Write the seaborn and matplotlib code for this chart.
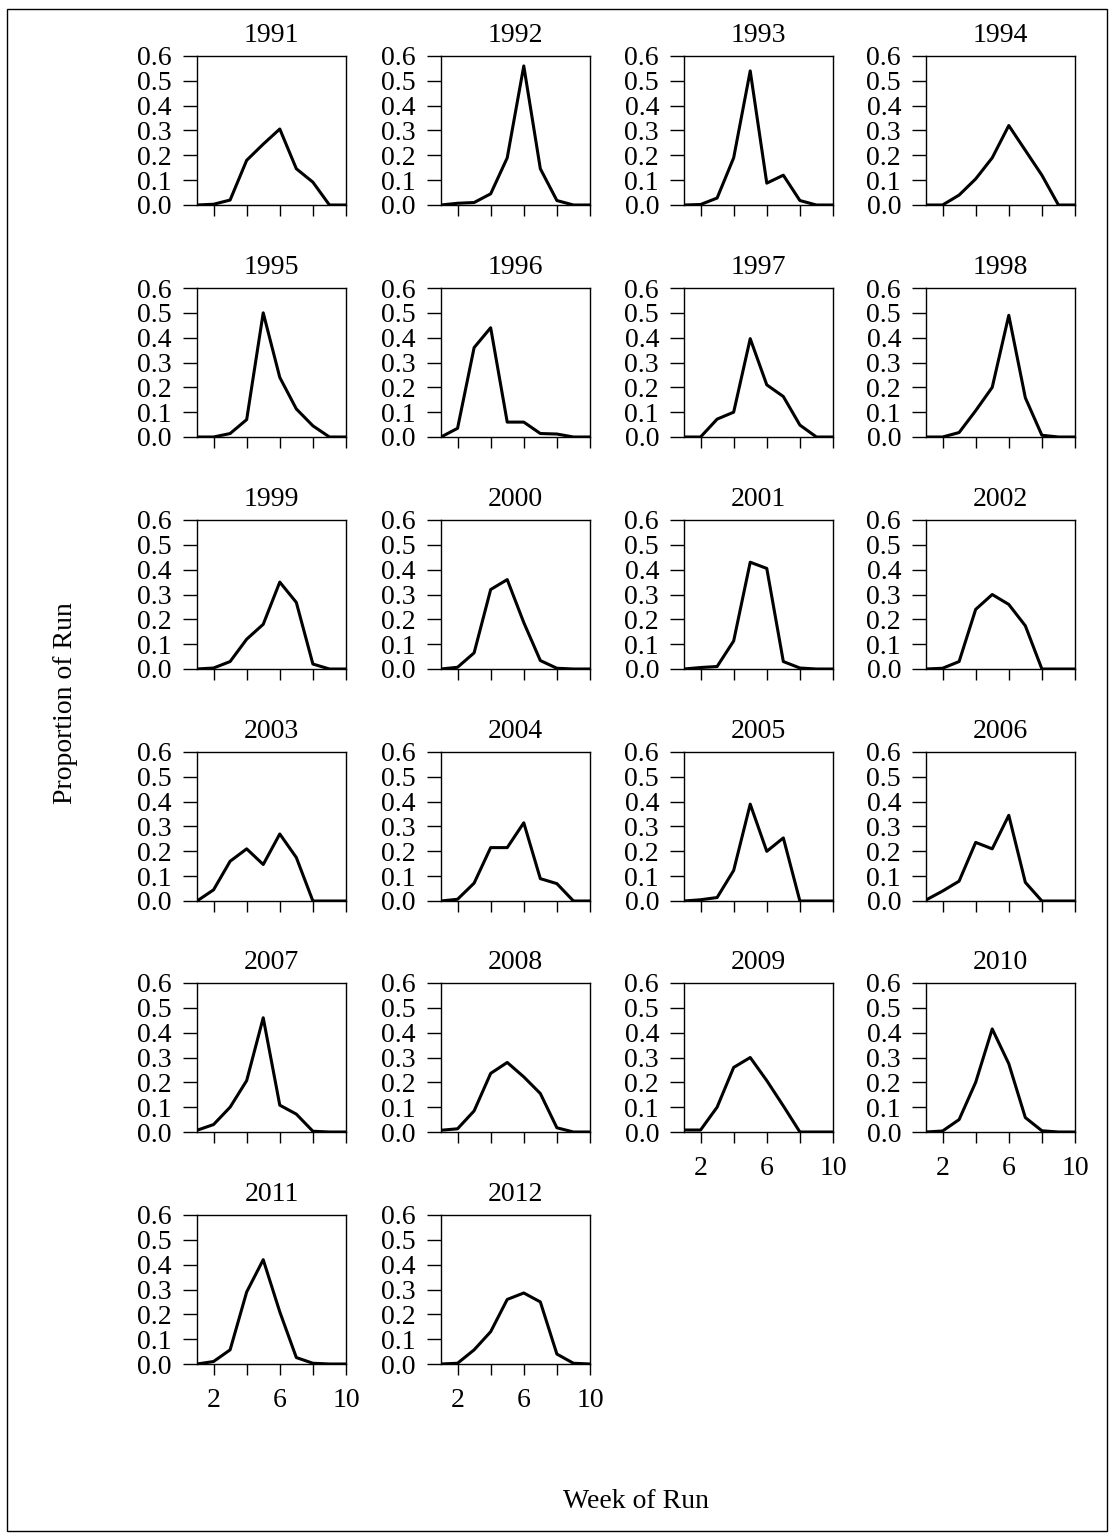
import matplotlib
matplotlib.use("Agg")
import matplotlib.pyplot as plt
from matplotlib.patches import Rectangle
import seaborn as sns
import pandas as pd

# ---------------- data ----------------
weeks = [1, 2, 3, 4, 5, 6, 7, 8, 9, 10]
years = list(range(1991, 2013))

y1991 = [0.0, 0.003, 0.02, 0.18, 0.245, 0.306, 0.146, 0.092, 0.0, 0.0]
y1992 = [0.0, 0.007, 0.01, 0.045, 0.19, 0.56, 0.146, 0.018, 0.0, 0.0]
y1993 = [0.0, 0.002, 0.028, 0.19, 0.54, 0.088, 0.12, 0.018, 0.0, 0.0]
y1994 = [0.0, 0.0, 0.04, 0.105, 0.19, 0.32, 0.22, 0.12, 0.0, 0.0]
y1995 = [0.0, 0.0, 0.014, 0.07, 0.50, 0.24, 0.113, 0.045, 0.0, 0.0]
y1996 = [0.0, 0.035, 0.36, 0.44, 0.06, 0.06, 0.014, 0.012, 0.0, 0.0]
y1997 = [0.0, 0.0, 0.072, 0.10, 0.396, 0.21, 0.163, 0.048, 0.0, 0.0]
y1998 = [0.0, 0.0, 0.018, 0.106, 0.20, 0.49, 0.158, 0.007, 0.0, 0.0]
y1999 = [0.0, 0.004, 0.03, 0.12, 0.18, 0.35, 0.268, 0.02, 0.0, 0.0]
y2000 = [0.0, 0.007, 0.065, 0.32, 0.36, 0.187, 0.034, 0.003, 0.0, 0.0]
y2001 = [0.0, 0.006, 0.01, 0.113, 0.43, 0.405, 0.03, 0.004, 0.0, 0.0]
y2002 = [0.0, 0.003, 0.03, 0.24, 0.30, 0.26, 0.174, 0.0, 0.0, 0.0]
y2003 = [0.0, 0.045, 0.16, 0.21, 0.147, 0.27, 0.175, 0.0, 0.0, 0.0]
y2004 = [0.0, 0.007, 0.072, 0.215, 0.215, 0.315, 0.09, 0.07, 0.0, 0.0]
y2005 = [0.0, 0.005, 0.014, 0.123, 0.39, 0.20, 0.254, 0.0, 0.0, 0.0]
y2006 = [0.004, 0.04, 0.08, 0.236, 0.21, 0.345, 0.075, 0.0, 0.0, 0.0]
y2007 = [0.007, 0.03, 0.10, 0.207, 0.46, 0.108, 0.072, 0.003, 0.0, 0.0]
y2008 = [0.007, 0.013, 0.085, 0.236, 0.28, 0.222, 0.155, 0.017, 0.0, 0.0]
y2009 = [0.008, 0.008, 0.10, 0.26, 0.30, 0.207, 0.105, 0.0, 0.0, 0.0]
y2010 = [0.0, 0.004, 0.05, 0.20, 0.415, 0.275, 0.058, 0.005, 0.0, 0.0]
y2011 = [0.0, 0.01, 0.057, 0.29, 0.42, 0.21, 0.026, 0.003, 0.0, 0.0]
y2012 = [0.0, 0.003, 0.057, 0.13, 0.26, 0.286, 0.25, 0.04, 0.003, 0.0]

series = [y1991, y1992, y1993, y1994, y1995, y1996, y1997, y1998, y1999, y2000,
          y2001, y2002, y2003, y2004, y2005, y2006, y2007, y2008, y2009, y2010,
          y2011, y2012]

y_ticks = [0.0, 0.1, 0.2, 0.3, 0.4, 0.5, 0.6]
y_ticklabels = ["0.0", "0.1", "0.2", "0.3", "0.4", "0.5", "0.6"]
x_ticks = [2, 4, 6, 8, 10]
x_ticklabels = ["2", "", "6", "", "10"]

df = pd.DataFrame([(yr, w, v) for yr, vals in zip(years, series) for w, v in zip(weeks, vals)],
                  columns=["year", "week", "prop"])

# ---------------- style ----------------
sns.set_theme(style="white")
plt.rcParams["font.family"] = ["Liberation Serif", "DejaVu Serif"]
plt.rcParams["axes.edgecolor"] = "black"
plt.rcParams["xtick.color"] = "black"
plt.rcParams["ytick.color"] = "black"
plt.rcParams["text.color"] = "black"
plt.rcParams["axes.labelcolor"] = "black"
plt.rcParams["axes.titlecolor"] = "black"

W, H = 1112, 1537
fig = plt.figure(figsize=(W / 100, H / 100), dpi=100)
fig.patch.set_facecolor("white")

col_left = [197, 441, 684, 926]
row_top = [56, 288, 520, 752, 983, 1215]
pw, ph = 149, 149
FS = 20

ncols = 4
n = len(years)
for i, yr in enumerate(years):
    r, c = divmod(i, ncols)
    l = col_left[c]
    t = row_top[r]
    ax = fig.add_axes([l / W, 1 - (t + ph) / H, pw / W, ph / H])
    sub = df[df["year"] == yr]
    sns.lineplot(data=sub, x="week", y="prop", color="black", linewidth=2.2, ax=ax)
    ax.set_xlim(1, 10)
    ax.set_ylim(0, 0.6)
    ax.set_yticks(y_ticks)
    ax.set_yticklabels(y_ticklabels, fontsize=FS, color="black")
    ax.set_xticks(x_ticks)
    bottom_panel = (i + ncols) >= n
    if bottom_panel:
        ax.set_xticklabels(x_ticklabels, fontsize=FS, color="black")
    else:
        ax.set_xticklabels([])
    ax.tick_params(axis="y", direction="out", length=10, width=1.0, pad=8, left=True)
    ax.tick_params(axis="x", direction="out", length=8, width=1.0, pad=9, bottom=True)
    for s in ax.spines.values():
        s.set_visible(True)
        s.set_color("black")
        s.set_linewidth(1.0)
    ax.set_xlabel("")
    ax.set_ylabel("")
    ax.set_title(str(yr), fontsize=FS, pad=10, color="black")
    ax.grid(False)

fig.text(65 / W, 1 - 703 / H, "Proportion of Run", rotation=90, fontsize=FS,
         ha="center", va="center", color="black")
fig.text(636 / W, 1 - 1502 / H, "Week of Run", fontsize=FS, ha="center", va="center",
         color="black")

fig.patches.append(Rectangle((7 / W, 1 - 1531 / H), (1107 - 7) / W, (1531 - 9) / H,
                             transform=fig.transFigure, fill=False, edgecolor="black",
                             linewidth=1.0, figure=fig))

fig.savefig("out.png", dpi=100, facecolor="white")
